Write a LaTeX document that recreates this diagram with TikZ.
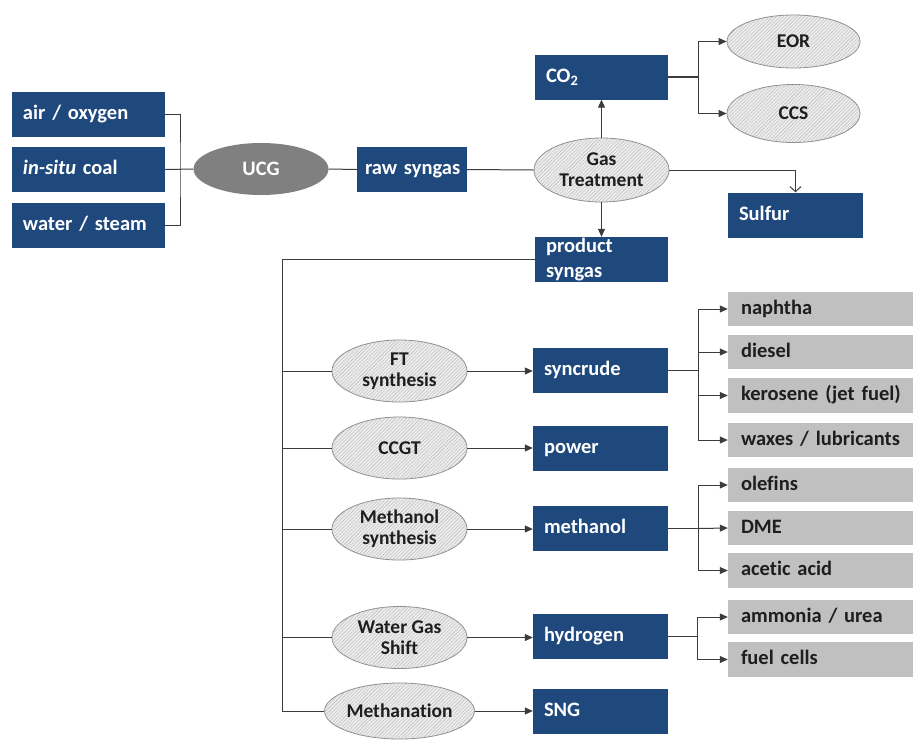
\documentclass[tikz,border=0pt]{standalone}
\usepackage{fontspec}
\setmainfont{Carlito}[Ligatures=NoCommon]
\usetikzlibrary{shapes.geometric,arrows.meta,patterns.meta}
\definecolor{boxblue}{RGB}{31,73,125}
\definecolor{prodgray}{RGB}{192,192,192}
\definecolor{ucggray}{RGB}{128,128,128}
\definecolor{ellfill}{RGB}{236,236,236}
\definecolor{ellborder}{RGB}{140,140,140}
\definecolor{hatchc}{RGB}{185,185,185}
\definecolor{linec}{RGB}{60,60,60}
\definecolor{txtdark}{RGB}{30,30,30}
\newcommand\dgfont{\fontsize{20.5}{24}\selectfont\bfseries\hyphenpenalty=10000 }
\newcommand\elfont{\fontsize{19.5}{21}\selectfont\bfseries}
\begin{document}
\begin{tikzpicture}[x=1pt,y=-1pt,
  bbox/.style={rectangle, fill=boxblue, text=white, font=\dgfont, text width=#1, align=left,
    inner xsep=11pt, inner ysep=0pt, minimum height=45pt, text height=14pt, text depth=4pt},
  gbox/.style={rectangle, fill=prodgray, text=txtdark, font=\dgfont, text width=170pt, align=left,
    inner xsep=13pt, inner ysep=0pt, minimum height=34.5pt, text height=14pt, text depth=4pt},
  ell/.style={ellipse, draw=ellborder, line width=0.8pt, fill=ellfill,
    postaction={pattern={Lines[angle=45,distance=2.5pt,line width=0.4pt]}, pattern color=hatchc},
    minimum width=135pt, minimum height=62pt, inner sep=0pt, align=center, font=\elfont, text=txtdark},
  ucgstyle/.style={ellipse, fill=ucggray, minimum width=135pt, minimum height=52pt, inner sep=0pt,
    font=\dgfont, text=white},
  ln/.style={draw=linec, line width=1pt},
  arr/.style={ln, -{Triangle[length=8pt,width=7pt]}},
]
\useasboundingbox[fill=white] (0,0) rectangle (913,740);

% inputs
\node[bbox=131pt] (air) at (88.5,114) {air / oxygen};
\node[bbox=131pt] (coal) at (88.5,169.5) {\textit{in-situ} coal};
\node[bbox=131pt] (water) at (88.5,225) {water / steam};
\node[ucgstyle] (ucg) at (261,169) {UCG};
\node[bbox=102pt, inner xsep=4pt] (raw) at (412,169.5) {\hspace*{4pt}raw syngas};

% gas treatment
\node[ell, minimum height=64pt] (gt) at (601.5,170) {Gas\\Treatment};
\node[bbox=111pt] (co2) at (601.5,77) {CO\textsubscript{2}};
\node[ell, minimum width=133pt, minimum height=53pt] (eor) at (793.5,41.5) {EOR};
\node[ell, minimum width=133pt, minimum height=58pt] (ccs) at (793.5,113.5) {CCS};
\node[bbox=113pt] (sulfur) at (795.5,215) {Sulfur};
\node[bbox=111pt, text height={}, text depth={}, font=\fontsize{20.5}{25}\selectfont\bfseries] (ps) at (601.5,259.5) {product\\syngas};

% conversion routes
\node[ell] (ft) at (399.5,371) {FT\\synthesis};
\node[ell] (ccgt) at (399.5,448) {CCGT};
\node[ell] (mes) at (399.5,529) {Methanol\\synthesis};
\node[ell] (wgs) at (399.5,637.5) {Water Gas\\Shift};
\node[ell, minimum height=56pt] (mtn) at (399.5,711) {Methanation};

\node[bbox=113pt] (syncrude) at (600.5,370) {syncrude};
\node[bbox=113pt] (power) at (600.5,448.5) {power};
\node[bbox=113pt] (methanol) at (600.5,528.5) {methanol};
\node[bbox=113pt] (hydrogen) at (600.5,636.5) {hydrogen};
\node[bbox=113pt] (sng) at (600.5,711) {SNG};

% products
\node[gbox] (naphtha) at (826,309) {naphtha};
\node[gbox] (diesel) at (826,352) {diesel};
\node[gbox] (kerosene) at (826,395.5) {kerosene (jet fuel)};
\node[gbox] (waxes) at (826,440) {waxes / lubricants};
\node[gbox] (olefins) at (826,485) {olefins};
\node[gbox] (dme) at (826,528) {DME};
\node[gbox] (acetic) at (826,570.5) {acetic acid};
\node[gbox] (ammonia) at (826,617) {ammonia / urea};
\node[gbox] (fuelcells) at (826,659.5) {fuel cells};

% junction points
\coordinate (jl) at (180,169.5);
\coordinate (jc) at (698,77);
\coordinate (bt) at (282,259.5);
\coordinate (bb) at (282,711);
\coordinate (js) at (698,370);
\coordinate (jm) at (698,528.5);
\coordinate (jh) at (697,636.5);

% connectors
\draw[ln] (air.east) -| (jl) |- (water.east);
\draw[ln] (coal.east) -- (ucg.west);
\draw[ln] (ucg.east) -- (raw.west);
\draw[ln] (raw.east) -- (gt.west);
\draw[arr] (gt.north) -- (co2.south);
\draw[arr] (gt.south) -- (ps.north);
\draw[ln, -{Straight Barb[length=5pt,width=11pt]}] (gt.east) -| (sulfur.north);
\draw[ln, line width=1.5pt] (co2.east) -- (jc);
\draw[arr] (jc) |- (eor.west);
\draw[arr] (jc) |- (ccs.west);

\draw[ln] (ps.west) -- (bt) -- (bb) -- (mtn.west);
\draw[ln] (ft.west -| bt) -- (ft.west);
\draw[ln] (ccgt.west -| bt) -- (ccgt.west);
\draw[ln] (mes.west -| bt) -- (mes.west);
\draw[ln] (wgs.west -| bt) -- (wgs.west);

\draw[arr] (ft.east) -- (ft.east -| syncrude.west);
\draw[arr] (ccgt.east) -- (ccgt.east -| power.west);
\draw[arr] (mes.east) -- (mes.east -| methanol.west);
\draw[arr] (wgs.east) -- (wgs.east -| hydrogen.west);
\draw[arr] (mtn.east) -- (mtn.east -| sng.west);

\draw[ln] (syncrude.east) -- (js);
\draw[arr] (js) |- (naphtha.west);
\draw[arr] (js) |- (diesel.west);
\draw[arr] (js) |- (kerosene.west);
\draw[arr] (js) |- (waxes.west);

\draw[ln] (methanol.east) -- (jm);
\draw[arr] (jm) |- (olefins.west);
\draw[arr] (jm) -- (dme.west);
\draw[arr] (jm) |- (acetic.west);

\draw[ln] (hydrogen.east) -- (jh);
\draw[arr] (jh) |- (ammonia.west);
\draw[arr] (jh) |- (fuelcells.west);
\end{tikzpicture}
\end{document}
